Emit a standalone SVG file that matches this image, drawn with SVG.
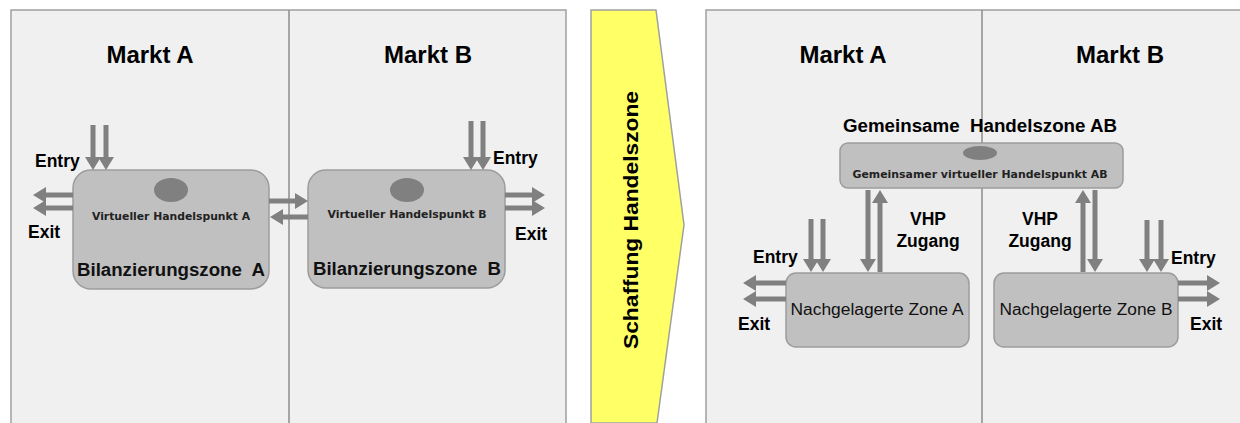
<svg xmlns="http://www.w3.org/2000/svg" width="1240" height="423" viewBox="0 0 1240 423">
  <style>
    .panel { fill: #f0f0f0; stroke: #a0a0a0; stroke-width: 1.5; }
    .divider { stroke: #8c8c8c; stroke-width: 1.5; }
    .zone { fill: #c0c0c0; stroke: #9c9c9c; stroke-width: 1.5; }
    .vhp { fill: #808080; }
    .flow { stroke: #808080; stroke-width: 5; fill: none; marker-end: url(#head); }
    .title { font-family: "Liberation Sans", Arial, sans-serif; font-weight: bold; font-size: 24px; fill: #000; text-anchor: middle; }
    .lbl { font-family: "Liberation Sans", Arial, sans-serif; font-weight: bold; font-size: 17.5px; fill: #000; }
    .big { font-size: 21px; }
    .zlbl { font-family: "Liberation Sans", Arial, sans-serif; font-weight: bold; font-size: 18px; fill: #111; text-anchor: middle; }
    .small { font-family: "DejaVu Sans", "Liberation Sans", sans-serif; font-weight: bold; font-size: 10.5px; fill: #222; text-anchor: middle; }
    .sub { font-family: "Liberation Sans", Arial, sans-serif; font-size: 16px; fill: #111; text-anchor: middle; }
    .pre { white-space: pre; }
  </style>
  <defs>
    <marker id="head" markerUnits="userSpaceOnUse" markerWidth="14" markerHeight="16" refX="0" refY="8" orient="auto">
      <path d="M0,0 L13,8 L0,16 z" fill="#808080"/>
    </marker>
  </defs>

  <rect width="1240" height="423" fill="#ffffff"/>

  <!-- Left side: two separate markets -->
  <g id="panel-before">
    <rect class="panel" x="11" y="10" width="555" height="420"/>
    <line class="divider" x1="289" y1="10" x2="289" y2="423"/>
    <text class="title" x="150" y="63">Markt A</text>
    <text class="title" x="428" y="63">Markt B</text>
  </g>

  <g id="zone-a">
    <rect class="zone" x="73" y="170" width="196" height="119" rx="18"/>
    <ellipse class="vhp" cx="171" cy="190" rx="17" ry="12"/>
    <text class="small" x="171" y="220" textLength="158" lengthAdjust="spacingAndGlyphs">Virtueller Handelspunkt A</text>
    <text class="zlbl pre" x="171" y="276" textLength="188" lengthAdjust="spacingAndGlyphs">Bilanzierungszone  A</text>
  </g>

  <g id="zone-b">
    <rect class="zone" x="308" y="170" width="197" height="118" rx="18"/>
    <ellipse class="vhp" cx="407" cy="190" rx="17" ry="12"/>
    <text class="small" x="407" y="218" textLength="159" lengthAdjust="spacingAndGlyphs">Virtueller Handelspunkt B</text>
    <text class="zlbl pre" x="407" y="275" textLength="188" lengthAdjust="spacingAndGlyphs">Bilanzierungszone  B</text>
  </g>

  <!-- Transition arrow -->
  <g id="transition">
    <polygon points="591,10 656,10 684,225 657,423 591,423" fill="#ffff66" stroke="#a0a0a0" stroke-width="1.5"/>
    <text class="lbl big" transform="translate(638,220) rotate(-90)" text-anchor="middle" textLength="258" lengthAdjust="spacingAndGlyphs">Schaffung Handelszone</text>
  </g>

  <!-- Right side: common trading zone -->
  <g id="panel-after">
    <rect class="panel" x="706" y="10" width="540" height="420"/>
    <line class="divider" x1="982" y1="10" x2="982" y2="423"/>
    <text class="title" x="843" y="63">Markt A</text>
    <text class="title" x="1120" y="63">Markt B</text>
    <text class="lbl pre" x="980" y="132" text-anchor="middle" textLength="274" lengthAdjust="spacingAndGlyphs">Gemeinsame  Handelszone AB</text>
  </g>

  <g id="common-zone">
    <rect class="zone" x="840" y="143" width="283" height="45" rx="8"/>
    <ellipse class="vhp" cx="980" cy="153" rx="17" ry="7"/>
    <text class="small" x="980" y="178" textLength="255" lengthAdjust="spacingAndGlyphs">Gemeinsamer virtueller Handelspunkt AB</text>
  </g>

  <g id="downstream-a">
    <rect class="zone" x="786" y="273" width="183" height="74" rx="10"/>
    <text class="sub" x="877" y="315" textLength="173" lengthAdjust="spacingAndGlyphs">Nachgelagerte Zone A</text>
  </g>

  <g id="downstream-b">
    <rect class="zone" x="994" y="273" width="184" height="74" rx="10"/>
    <text class="sub" x="1086" y="315" textLength="173" lengthAdjust="spacingAndGlyphs">Nachgelagerte Zone B</text>
  </g>

  <!-- Flow arrows -->
  <g id="connectors">
    <!-- zone A entry / exit -->
    <line class="flow" x1="93" y1="125" x2="93" y2="157"/>
    <line class="flow" x1="106" y1="125" x2="106" y2="157"/>
    <line class="flow" x1="73" y1="195" x2="46" y2="195"/>
    <line class="flow" x1="73" y1="208" x2="46" y2="208"/>
    <!-- exchange between A and B -->
    <line class="flow" x1="269" y1="201" x2="295" y2="201"/>
    <line class="flow" x1="308" y1="217" x2="283" y2="217"/>
    <!-- zone B entry / exit -->
    <line class="flow" x1="471" y1="121" x2="471" y2="157"/>
    <line class="flow" x1="483" y1="121" x2="483" y2="157"/>
    <line class="flow" x1="505" y1="195" x2="532" y2="195"/>
    <line class="flow" x1="505" y1="208" x2="532" y2="208"/>
    <!-- downstream A -->
    <line class="flow" x1="811" y1="219" x2="811" y2="259"/>
    <line class="flow" x1="823" y1="219" x2="823" y2="259"/>
    <line class="flow" x1="786" y1="283" x2="756" y2="283"/>
    <line class="flow" x1="786" y1="299" x2="756" y2="299"/>
    <line class="flow" x1="868" y1="190" x2="868" y2="259"/>
    <line class="flow" x1="880" y1="272" x2="880" y2="203"/>
    <!-- downstream B -->
    <line class="flow" x1="1083" y1="272" x2="1083" y2="203"/>
    <line class="flow" x1="1095" y1="190" x2="1095" y2="259"/>
    <line class="flow" x1="1147" y1="220" x2="1147" y2="259"/>
    <line class="flow" x1="1161" y1="220" x2="1161" y2="259"/>
    <line class="flow" x1="1178" y1="283" x2="1207" y2="283"/>
    <line class="flow" x1="1178" y1="299" x2="1207" y2="299"/>
  </g>

  <!-- Flow labels -->
  <g id="flow-labels">
    <text class="lbl" x="35" y="167">Entry</text>
    <text class="lbl" x="28" y="238">Exit</text>
    <text class="lbl" x="493" y="164">Entry</text>
    <text class="lbl" x="515" y="240">Exit</text>
    <text class="lbl" x="753" y="263">Entry</text>
    <text class="lbl" x="738" y="330">Exit</text>
    <text class="lbl" x="1171" y="264">Entry</text>
    <text class="lbl" x="1190" y="330">Exit</text>
    <text class="lbl" x="928" y="225" text-anchor="middle">VHP</text>
    <text class="lbl" x="928" y="247" text-anchor="middle">Zugang</text>
    <text class="lbl" x="1040" y="225" text-anchor="middle">VHP</text>
    <text class="lbl" x="1040" y="247" text-anchor="middle">Zugang</text>
  </g>
</svg>
